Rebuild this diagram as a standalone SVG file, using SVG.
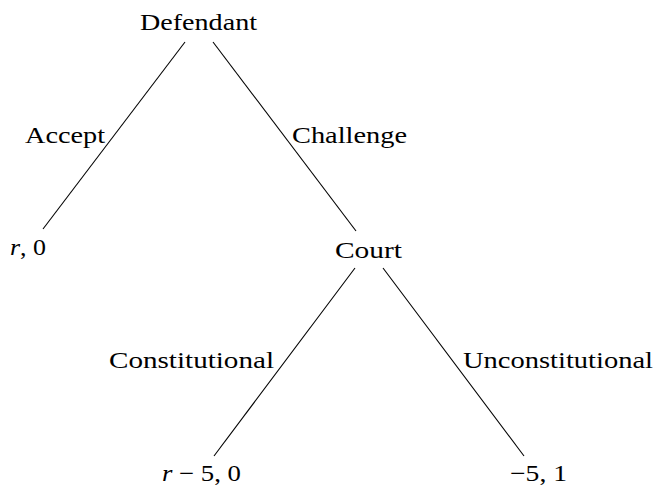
<svg xmlns="http://www.w3.org/2000/svg" width="655" height="487" viewBox="0 0 655 487">
<style>
text{font-family:"Liberation Serif","DejaVu Serif",serif;font-size:23px;fill:#000}
.i{font-style:italic}
line{stroke:#000;stroke-width:1.1}
</style>
<rect width="655" height="487" fill="#fff"/>
<g id="connectors">
<line x1="185" y1="42" x2="43" y2="229"/>
<line x1="213" y1="42" x2="356" y2="231"/>
<line x1="355" y1="268" x2="214" y2="456"/>
<line x1="383" y1="268" x2="524" y2="456"/>
</g>
<g id="labels">
<text x="25" y="143" textLength="80" lengthAdjust="spacingAndGlyphs">Accept</text>
<text x="292" y="143" textLength="115" lengthAdjust="spacingAndGlyphs">Challenge</text>
<text x="109" y="368" textLength="165" lengthAdjust="spacingAndGlyphs">Constitutional</text>
<text x="463" y="368" textLength="190" lengthAdjust="spacingAndGlyphs">Unconstitutional</text>
</g>
<g id="defendant"><text x="140" y="30" textLength="117" lengthAdjust="spacingAndGlyphs">Defendant</text></g>
<g id="court"><text x="335" y="258" textLength="67" lengthAdjust="spacingAndGlyphs">Court</text></g>
<g id="leaf-accept"><text x="10" y="255" textLength="36" lengthAdjust="spacingAndGlyphs"><tspan class="i">r</tspan>, 0</text></g>
<g id="leaf-const"><text x="162" y="481" textLength="79" lengthAdjust="spacingAndGlyphs"><tspan class="i">r</tspan> − 5, 0</text></g>
<g id="leaf-unconst"><text x="510" y="481" textLength="57" lengthAdjust="spacingAndGlyphs">−5, 1</text></g>
</svg>
